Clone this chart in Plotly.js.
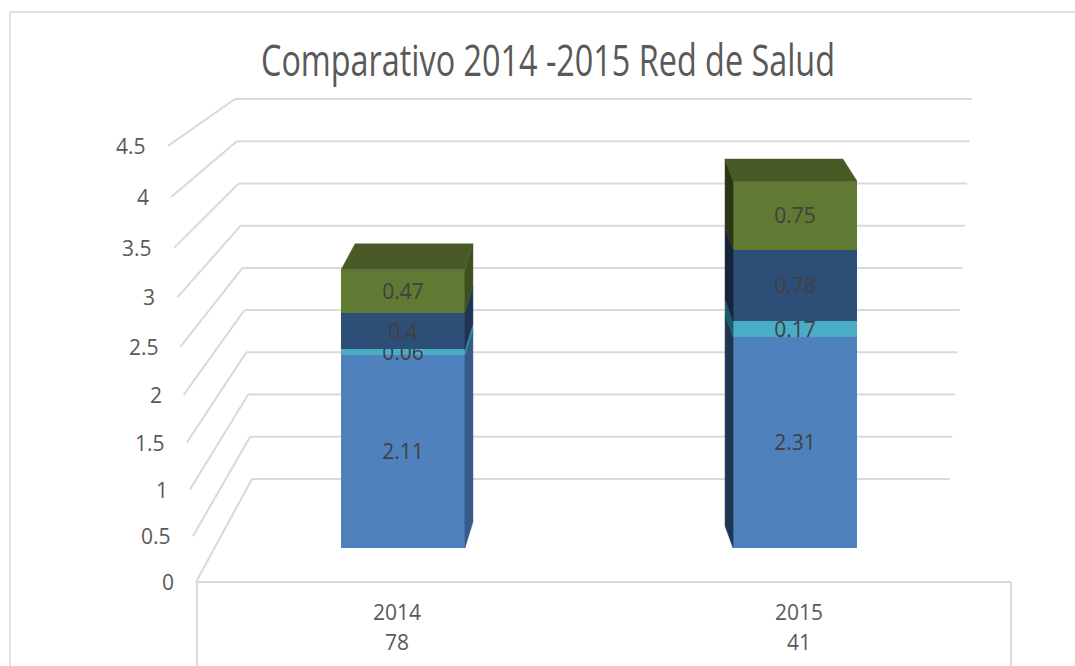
<!DOCTYPE html>
<html>
<head>
<meta charset="utf-8">
<script src="https://cdn.plot.ly/plotly-3.0.1.min.js"></script>
<style>html,body{margin:0;padding:0;background:#fff;}#chart{width:1075px;height:666px;}</style>
</head>
<body>
<div id="chart"></div>
<script>
// ---- data ----
const categories = ['2014', '2015'];
const counts = ['78', '41'];
const series1 = [2.11, 2.31];
const series2 = [0.06, 0.17];
const series3 = [0.4, 0.78];
const series4 = [0.47, 0.75];
const yTicks = [0, 0.5, 1, 1.5, 2, 2.5, 3, 3.5, 4, 4.5];

// ---- styles / geometry ----
const W = 1075, H = 666;
const fx = x => x / W, fy = y => 1 - y / H;
const frontColors = ['#4F81BD', '#4BACC6', '#2D4E77', '#617A33'];
const sideColorsRight = ['#36598A', '#2E8BA3', '#1E3452', '#3F4F1F'];
const sideColorsLeft = ['#1F3552', '#1D5A6B', '#15233A', '#2A3514'];
const topColor = '#4A5A27';
const barAxis = { left: 207, right: 991, base: 548, pxPerUnit: 91.5 };
const xPx = (barAxis.right - barAxis.left) / 2; // px per category unit
const barWidth = 0.316;
const depth = [
  { dxL: 14, dxR: 8, dy: 26, side: 'right' },
  { dxL: -8, dxR: -14, dy: 22, side: 'left' }
];
const gridColor = '#D9D9D9';
const textColor = '#595959';
const font = 'Open Sans, sans-serif';

const yTop = barAxis.base / barAxis.pxPerUnit;
const yBot = yTop - H / barAxis.pxPerUnit;

const seriesList = [series1, series2, series3, series4];
const traces = [];

// 3D faces (side + top), computed from the data on the bar axes
categories.forEach((c, i) => {
  const d = depth[i];
  const xl = i - barWidth / 2, xr = i + barWidth / 2;
  const dyU = d.dy / barAxis.pxPerUnit;
  let cum = 0;
  seriesList.forEach((s, k) => {
    const b0 = cum, b1 = cum + s[i];
    cum = b1;
    let xs, col;
    if (d.side === 'right') {
      const dx = d.dxR / xPx;
      xs = [xr, xr, xr + dx, xr + dx, xr];
      col = sideColorsRight[k];
    } else {
      const dx = d.dxL / xPx;
      xs = [xl, xl, xl + dx, xl + dx, xl];
      col = sideColorsLeft[k];
    }
    traces.push({
      type: 'scatter', mode: 'lines', x: xs, y: [b0, b1, b1 + dyU, b0 + dyU, b0],
      fill: 'toself', fillcolor: col, line: { width: 0.5, color: col },
      hoverinfo: 'skip', showlegend: false, xaxis: 'x', yaxis: 'y'
    });
  });
  const T = cum;
  traces.push({
    type: 'scatter', mode: 'lines',
    x: [xl, xr, xr + d.dxR / xPx, xl + d.dxL / xPx, xl],
    y: [T, T, T + dyU, T + dyU, T],
    fill: 'toself', fillcolor: topColor, line: { width: 0.5, color: topColor },
    hoverinfo: 'skip', showlegend: false, xaxis: 'x', yaxis: 'y'
  });
});

// front faces: stacked bars
seriesList.forEach((s, k) => {
  traces.push({
    type: 'bar', x: categories.map((c, i) => i), y: s,
    width: barWidth, marker: { color: frontColors[k], line: { width: 0 } },
    text: s.map(v => String(v)), textposition: 'inside', insidetextanchor: 'middle',
    textangle: 0, constraintext: 'none', cliponaxis: false,
    textfont: { family: font, size: 21, color: '#404040' },
    hoverinfo: 'skip', showlegend: false, xaxis: 'x', yaxis: 'y'
  });
});

// dummy traces for category label axes
traces.push({ type: 'scatter', mode: 'markers', x: categories, y: [null, null], xaxis: 'x2', yaxis: 'y', showlegend: false, hoverinfo: 'skip' });
traces.push({ type: 'scatter', mode: 'markers', x: counts, y: [null, null], xaxis: 'x3', yaxis: 'y', showlegend: false, hoverinfo: 'skip' });

// perspective wall geometry (pixels)
const backY = v => 479 - 84.44 * v;
const backXL = v => 252 - 3.78 * v;
const backXR = v => 950 + 4.89 * v;
const frontY = v => 582 - 90.8 * v - 1.356 * v * v;
const frontX = v => 196 - 6.2 * v;

const shapes = [];
const line = { color: gridColor, width: 2 };
yTicks.forEach(v => {
  shapes.push({ type: 'line', xref: 'paper', yref: 'paper', layer: 'below',
    x0: fx(backXL(v)), y0: fy(backY(v)), x1: fx(backXR(v)), y1: fy(backY(v)), line });
  shapes.push({ type: 'line', xref: 'paper', yref: 'paper', layer: 'below',
    x0: fx(frontX(v)), y0: fy(frontY(v)), x1: fx(backXL(v)), y1: fy(backY(v)), line });
});
// floor front edge and box
shapes.push({ type: 'line', xref: 'paper', yref: 'paper', layer: 'below', x0: fx(197), y0: fy(582), x1: fx(1011), y1: fy(582), line });
shapes.push({ type: 'line', xref: 'paper', yref: 'paper', layer: 'below', x0: fx(197), y0: fy(582), x1: fx(197), y1: fy(680), line });
shapes.push({ type: 'line', xref: 'paper', yref: 'paper', layer: 'below', x0: fx(1011), y0: fy(582), x1: fx(1011), y1: fy(680), line });
// outer chart border
shapes.push({ type: 'rect', xref: 'paper', yref: 'paper', layer: 'below', x0: fx(10), y0: fy(12), x1: fx(1090), y1: fy(690), line: { color: gridColor, width: 1.5 } });

// value axis labels along the front edge
const annotations = yTicks.map(v => ({
  xref: 'paper', yref: 'paper', x: fx(frontX(v) - 20), y: fy(frontY(v)),
  xanchor: 'right', yanchor: 'middle', showarrow: false, text: String(v),
  font: { family: font, size: 21, color: textColor }
}));

const labelDomain = [fx(196), fx(1000)];
const layout = {
  width: W, height: H,
  margin: { l: 0, r: 0, t: 0, b: 0 },
  paper_bgcolor: '#fff', plot_bgcolor: 'rgba(0,0,0,0)',
  showlegend: false, barmode: 'stack', bargap: 0,
  title: { text: 'Comparativo 2014 -2015 Red de Salud', x: fx(548), xanchor: 'center', y: fy(61), yanchor: 'middle',
    font: { family: font, size: 43, color: textColor } },
  xaxis: { domain: [fx(barAxis.left), fx(barAxis.right)], range: [-0.5, 1.5], visible: false, fixedrange: true },
  yaxis: { domain: [0, 1], range: [yBot, yTop], visible: false, fixedrange: true },
  xaxis2: { domain: labelDomain, anchor: 'free', position: fy(598), type: 'category', range: [-0.5, 1.5],
    showline: false, showgrid: false, zeroline: false, ticks: '', tickfont: { family: font, size: 21, color: textColor } },
  xaxis3: { domain: labelDomain, anchor: 'free', position: fy(628), type: 'category', range: [-0.5, 1.5],
    showline: false, showgrid: false, zeroline: false, ticks: '', tickfont: { family: font, size: 21, color: textColor } },
  shapes, annotations
};

Plotly.newPlot('chart', traces, layout, { staticPlot: true, displayModeBar: false }).then(gd => {
  const t = gd.querySelector('.gtitle');
  if (t) { t.setAttribute('textLength', '574'); t.setAttribute('lengthAdjust', 'spacingAndGlyphs'); }
});
</script>
</body>
</html>
